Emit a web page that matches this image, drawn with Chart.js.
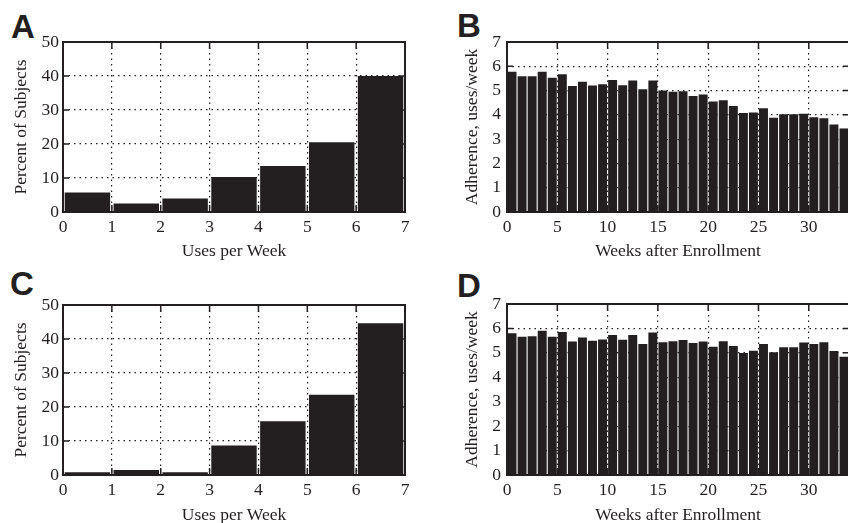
<!DOCTYPE html>
<html>
<head>
<meta charset="utf-8">
<script src="https://cdn.jsdelivr.net/npm/chart.js@4/dist/chart.umd.min.js"></script>
<style>
  html, body { margin: 0; padding: 0; background: #fff; width: 848px; height: 523px; overflow: hidden; }
  .panel { position: absolute; }
  .letter { position: absolute; font-family: "Liberation Sans", Arial, sans-serif; font-weight: bold; font-size: 33px; line-height: 33px; color: #231f20; }
</style>
</head>
<body>
<div class="letter" style="left:11px; top:10px;">A</div>
<div class="letter" style="left:457px; top:9px;">B</div>
<div class="letter" style="left:10px; top:267px;">C</div>
<div class="letter" style="left:457px; top:269px;">D</div>

<div class="panel" style="left:0px; top:0px;"><canvas id="chartA" width="424" height="262"></canvas></div>
<div class="panel" style="left:424px; top:0px;"><canvas id="chartB" width="430" height="262"></canvas></div>
<div class="panel" style="left:0px; top:262px;"><canvas id="chartC" width="424" height="268"></canvas></div>
<div class="panel" style="left:424px; top:262px;"><canvas id="chartD" width="430" height="268"></canvas></div>

<script>
// ---------- DATA ----------
// Uses-per-week bins (bin start values), ticks 0..7
const useBins = [0, 1, 2, 3, 4, 5, 6];
const useTicks = [0, 1, 2, 3, 4, 5, 6, 7];
const percentA = [5.7, 2.5, 4.0, 10.3, 13.5, 20.5, 40.0];
const percentC = [0.8, 1.5, 0.8, 8.7, 15.8, 23.6, 44.6];

// Weeks after enrollment (week start values)
const weeks = [0,1,2,3,4,5,6,7,8,9,10,11,12,13,14,15,16,17,18,19,20,21,22,23,24,25,26,27,28,29,30,31,32,33];
const weekTicks = [0, 5, 10, 15, 20, 25, 30];
const adherenceB = [5.77, 5.59, 5.59, 5.77, 5.53, 5.67, 5.19, 5.36, 5.21, 5.26, 5.44, 5.22, 5.41, 5.05, 5.41,
                    5.00, 4.95, 4.97, 4.78, 4.84, 4.55, 4.60, 4.36, 4.08, 4.10, 4.27, 3.88, 4.03, 4.03, 4.05,
                    3.90, 3.86, 3.60, 3.44];
const adherenceD = [5.80, 5.66, 5.68, 5.91, 5.66, 5.85, 5.46, 5.63, 5.50, 5.55, 5.73, 5.54, 5.73, 5.36, 5.83,
                    5.43, 5.48, 5.53, 5.40, 5.46, 5.25, 5.48, 5.28, 4.99, 5.09, 5.36, 5.02, 5.23, 5.23, 5.42,
                    5.36, 5.43, 5.08, 4.84];

const yTicksPercent = [0, 10, 20, 30, 40, 50];
const yTicksAdherence = [0, 1, 2, 3, 4, 5, 6, 7];

// ---------- STYLE ----------
const INK = '#231f20';
const FONT = { family: '"Liberation Serif", "Times New Roman", serif', size: 17.5 };

const framePlugin = {
  id: 'frame',
  afterDatasetsDraw(chart) {
    const { ctx, chartArea: a, scales: { x, y } } = chart;
    ctx.save();
    ctx.strokeStyle = INK;
    ctx.lineWidth = 1.5;
    ctx.beginPath();
    x.ticks.forEach(t => {
      const px = x.getPixelForValue(t.value);
      ctx.moveTo(px, a.top); ctx.lineTo(px, a.top + 7);
      ctx.moveTo(px, a.bottom); ctx.lineTo(px, a.bottom - 7);
    });
    y.ticks.forEach(t => {
      const py = y.getPixelForValue(t.value);
      ctx.moveTo(a.left, py); ctx.lineTo(a.left + 6, py);
      ctx.moveTo(a.right, py); ctx.lineTo(a.right - 6, py);
    });
    ctx.stroke();
    ctx.lineWidth = 2;
    ctx.strokeRect(a.left, a.top, a.right - a.left, a.bottom - a.top);
    ctx.restore();
  }
};

function makeChart(id, cfg) {
  const data = cfg.starts.map((s, i) => ({ x: s + 0.5, y: cfg.values[i] }));
  return new Chart(document.getElementById(id), {
    type: 'bar',
    data: {
      datasets: [{
        data: data,
        backgroundColor: INK,
        borderWidth: 0,
        barPercentage: cfg.barPct,
        categoryPercentage: 1.0
      }]
    },
    options: {
      responsive: false,
      animation: false,
      devicePixelRatio: 1,
      layout: { padding: cfg.padding },
      plugins: { legend: { display: false }, tooltip: { enabled: false } },
      scales: {
        x: {
          type: 'linear',
          min: cfg.xTicks[0],
          max: cfg.xMax,
          offset: false,
          afterFit: s => { s.height = cfg.xHeight; },
          afterBuildTicks: s => { s.ticks = cfg.xTicks.map(v => ({ value: v })); },
          grid: { offset: false, color: INK, lineWidth: 1.2, drawTicks: false },
          border: { display: false, dash: [1.5, 4] },
          ticks: { color: INK, font: FONT, padding: 5, maxRotation: 0, autoSkip: false },
          title: { display: true, text: cfg.xTitle, color: INK, font: FONT, padding: { top: 0, bottom: cfg.xTitlePad } }
        },
        y: {
          min: cfg.yTicks[0],
          max: cfg.yTicks[cfg.yTicks.length - 1],
          afterFit: s => { s.width = cfg.yWidth; },
          afterBuildTicks: s => { s.ticks = cfg.yTicks.map(v => ({ value: v })); },
          grid: { color: INK, lineWidth: 1.2, drawTicks: false },
          border: { display: false, dash: [1.5, 4] },
          ticks: { color: INK, font: FONT, padding: cfg.yTickPad, autoSkip: false },
          title: { display: true, text: cfg.yTitle, color: INK, font: FONT, padding: { top: cfg.yTitlePad, bottom: 0 } }
        }
      }
    },
    plugins: [framePlugin]
  });
}

makeChart('chartA', {
  starts: useBins, values: percentA, xTicks: useTicks, xMax: 7, yTicks: yTicksPercent,
  xTitle: 'Uses per Week', yTitle: 'Percent of Subjects', barPct: 0.93,
  padding: { left: 0, top: 42, right: 19, bottom: 0 }, xHeight: 50, yWidth: 63,
  yTickPad: 4, yTitlePad: 10.5, xTitlePad: 0
});
makeChart('chartB', {
  starts: weeks, values: adherenceB, xTicks: weekTicks, xMax: 34, yTicks: yTicksAdherence,
  xTitle: 'Weeks after Enrollment', yTitle: 'Adherence, uses/week', barPct: 0.89,
  padding: { left: 0, top: 42, right: 5, bottom: 0 }, xHeight: 50, yWidth: 83,
  yTickPad: 6, yTitlePad: 37.5, xTitlePad: 0
});
makeChart('chartC', {
  starts: useBins, values: percentC, xTicks: useTicks, xMax: 7, yTicks: yTicksPercent,
  xTitle: 'Uses per Week', yTitle: 'Percent of Subjects', barPct: 0.93,
  padding: { left: 0, top: 43, right: 19, bottom: 0 }, xHeight: 55, yWidth: 63,
  yTickPad: 4, yTitlePad: 10.5, xTitlePad: 4
});
makeChart('chartD', {
  starts: weeks, values: adherenceD, xTicks: weekTicks, xMax: 34, yTicks: yTicksAdherence,
  xTitle: 'Weeks after Enrollment', yTitle: 'Adherence, uses/week', barPct: 0.89,
  padding: { left: 0, top: 42, right: 5, bottom: 0 }, xHeight: 55, yWidth: 83,
  yTickPad: 6, yTitlePad: 37.5, xTitlePad: 4
});
</script>
</body>
</html>
